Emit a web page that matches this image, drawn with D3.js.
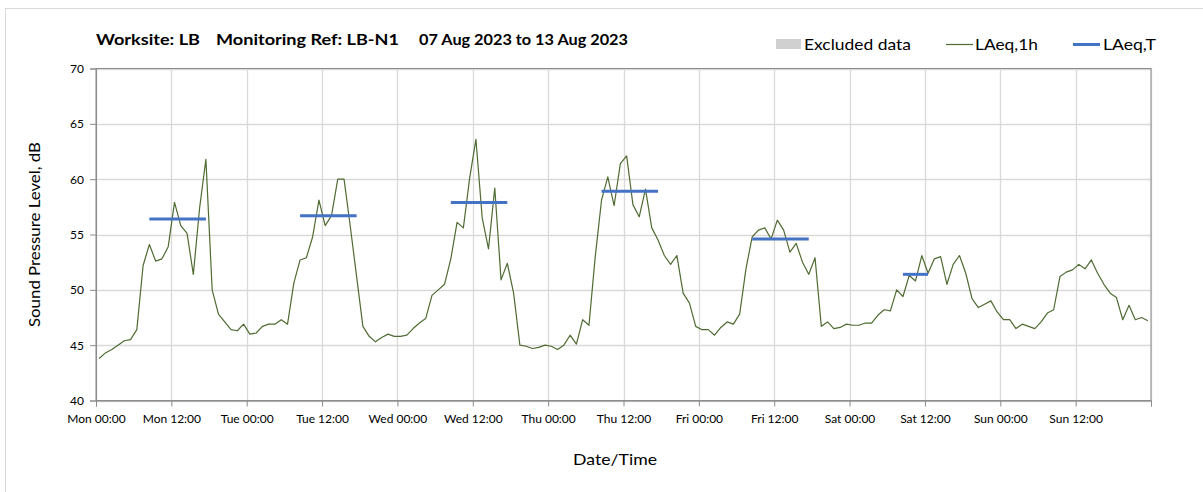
<!DOCTYPE html>
<html>
<head>
<meta charset="utf-8">
<script src="https://cdn.jsdelivr.net/npm/d3@7"></script>
<style>
  body { margin: 0; background: #fff; }
  text { font-family: Lato, "Open Sans", sans-serif; fill: #000; }
</style>
</head>
<body>
<div id="wrapper"></div>
<script>
const width = 1203,
    height = 492;

// hourly LAeq,1h (dB), Mon 07 Aug 2023 00:00 to Sun 13 Aug 2023 23:00
const monValues = [43.8, 44.3, 44.6, 45.0, 45.4, 45.5, 46.4, 52.2, 54.1, 52.6, 52.8, 53.9,
    57.9, 55.8, 55.1, 51.4, 57.4, 61.8, 50.0, 47.8, 47.1, 46.4, 46.3, 46.9];
const tueValues = [46.0, 46.1, 46.7, 46.9, 46.9, 47.3, 46.9, 50.6, 52.7, 52.9, 54.8, 58.1,
    55.8, 56.7, 60.0, 60.0, 55.7, 51.2, 46.7, 45.8, 45.3, 45.7, 46.0, 45.8];
const wedValues = [45.8, 45.9, 46.5, 47.0, 47.4, 49.5, 50.0, 50.5, 52.8, 56.1, 55.6, 60.1,
    63.6, 56.5, 53.7, 59.2, 50.9, 52.4, 49.7, 45.0, 44.9, 44.7, 44.8, 45.0];
const thuValues = [44.9, 44.6, 45.0, 45.9, 45.1, 47.3, 46.8, 53.0, 58.1, 60.2, 57.6, 61.4,
    62.1, 57.7, 56.6, 59.1, 55.6, 54.5, 53.1, 52.3, 53.1, 49.7, 48.8, 46.7];
const friValues = [46.4, 46.4, 45.9, 46.6, 47.1, 46.9, 47.8, 51.9, 54.8, 55.4, 55.6, 54.6,
    56.3, 55.4, 53.4, 54.2, 52.5, 51.4, 52.9, 46.7, 47.1, 46.5, 46.6, 46.9];
const satValues = [46.8, 46.8, 47.0, 47.0, 47.7, 48.2, 48.1, 50.0, 49.4, 51.3, 50.8, 53.1,
    51.5, 52.8, 53.0, 50.5, 52.3, 53.1, 51.5, 49.2, 48.4, 48.7, 49.0, 48.0];
const sunValues = [47.3, 47.3, 46.5, 46.9, 46.7, 46.5, 47.1, 47.9, 48.2, 51.2, 51.6, 51.8,
    52.3, 51.9, 52.7, 51.5, 50.5, 49.7, 49.3, 47.3, 48.6, 47.3, 47.5, 47.2];

// LAeq,T periods (first and last hour in the period) and levels
const ltStart = ["2023-08-07 08:00", "2023-08-08 08:00", "2023-08-09 08:00",
    "2023-08-10 08:00", "2023-08-11 08:00", "2023-08-12 08:00"];
const ltEnd = ["2023-08-07 17:00", "2023-08-08 17:00", "2023-08-09 17:00",
    "2023-08-10 17:00", "2023-08-11 17:00", "2023-08-12 12:00"];
const ltValues = [56.4, 56.7, 57.9, 58.9, 54.6, 51.4];

const yTicks = [40, 45, 50, 55, 60, 65, 70];

const parse = d3.timeParse("%Y-%m-%d %H:%M");
const startTime = parse("2023-08-07 00:00"),
    endTime = parse("2023-08-14 00:00");

const hourly = [].concat(monValues, tueValues, wedValues, thuValues, friValues, satValues, sunValues);
const hours = d3.timeHour.range(startTime, endTime);
const series = hours.map((t, i) => ({time: d3.timeMinute.offset(t, 30), value: hourly[i]}));

const periods = ltValues.map((v, i) => ({
    start: d3.timeMinute.offset(parse(ltStart[i]), 30),
    end: d3.timeMinute.offset(parse(ltEnd[i]), 30),
    value: v}));

const plot = {left: 96, right: 1151, top: 68.5, bottom: 400.5};

const svg = d3.select("#wrapper")
    .append("svg")
    .attr("width", width)
    .attr("height", height);

// outer frame
svg.append("rect")
    .attr("x", 5.5).attr("y", 8.5)
    .attr("width", width).attr("height", height)
    .attr("fill", "none")
    .attr("stroke", "#d9d9d9");

const x = d3.scaleTime()
    .domain([startTime, endTime])
    .range([plot.left, plot.right]);

const y = d3.scaleLinear()
    .domain([40, 70])
    .range([plot.bottom, plot.top]);

const xTicks = d3.timeHour.every(12).range(startTime, d3.timeHour.offset(endTime, 1));

// grid
svg.append("g")
    .selectAll("line")
    .data(yTicks)
    .enter().append("line")
    .attr("x1", plot.left).attr("x2", plot.right)
    .attr("y1", d => Math.round(y(d)) + 0.5).attr("y2", d => Math.round(y(d)) + 0.5)
    .attr("stroke", "#d9d9d9")
    .attr("stroke-width", 1.3);

svg.append("g")
    .selectAll("line")
    .data(xTicks)
    .enter().append("line")
    .attr("x1", d => Math.round(x(d)) + 0.5).attr("x2", d => Math.round(x(d)) + 0.5)
    .attr("y1", plot.top).attr("y2", plot.bottom)
    .attr("stroke", "#d9d9d9")
    .attr("stroke-width", 1.3);

// plot border
svg.append("rect")
    .attr("x", plot.left).attr("y", plot.top)
    .attr("width", plot.right - plot.left).attr("height", plot.bottom - plot.top)
    .attr("fill", "none")
    .attr("stroke", "#8c8c8c");

// axes
const xAxis = svg.append("g")
    .attr("transform", "translate(0," + plot.bottom + ")")
    .call(d3.axisBottom(x)
        .tickValues(xTicks)
        .tickSize(6)
        .tickPadding(8)
        .tickFormat(d => d < endTime ? d3.timeFormat("%a %H:%M")(d) : ""));

const yAxis = svg.append("g")
    .attr("transform", "translate(" + plot.left + ",0)")
    .call(d3.axisLeft(y)
        .tickValues(yTicks)
        .tickSize(6)
        .tickPadding(6));

[xAxis, yAxis].forEach(function (g) {
    g.select(".domain").attr("stroke", "#8c8c8c");
    g.selectAll(".tick line").attr("stroke", "#8c8c8c");
    g.selectAll(".tick text")
        .style("font-family", "Lato, sans-serif")
        .style("font-size", "12px")
        .attr("fill", "#222");
});

// LAeq,1h line
const line = d3.line()
    .x(d => x(d.time))
    .y(d => y(d.value));

svg.append("path")
    .datum(series)
    .attr("d", line)
    .attr("fill", "none")
    .attr("stroke", "#4f6b32")
    .attr("stroke-width", 1.2)
    .attr("stroke-linejoin", "round");

// LAeq,T periods
svg.append("g")
    .selectAll("line")
    .data(periods)
    .enter().append("line")
    .attr("x1", d => x(d.start)).attr("x2", d => x(d.end))
    .attr("y1", d => y(d.value)).attr("y2", d => y(d.value))
    .attr("stroke", "#4472c4")
    .attr("stroke-width", 3);

// title
const title = svg.append("g")
    .style("font-weight", "bold")
    .style("font-size", "15px");

title.append("text").attr("x", 96).attr("y", 45)
    .attr("textLength", 104).attr("lengthAdjust", "spacingAndGlyphs")
    .text("Worksite: LB");
title.append("text").attr("x", 216).attr("y", 45)
    .attr("textLength", 183).attr("lengthAdjust", "spacingAndGlyphs")
    .text("Monitoring Ref: LB-N1");
title.append("text").attr("x", 419).attr("y", 45)
    .attr("textLength", 209).attr("lengthAdjust", "spacingAndGlyphs")
    .text("07 Aug 2023 to 13 Aug 2023");

// legend
const legend = svg.append("g")
    .style("font-size", "16px");

legend.append("rect")
    .attr("x", 776).attr("y", 39)
    .attr("width", 25).attr("height", 10)
    .attr("fill", "#d0d0d0");
legend.append("text").attr("x", 804).attr("y", 50)
    .attr("fill", "#222")
    .attr("textLength", 107).attr("lengthAdjust", "spacingAndGlyphs")
    .text("Excluded data");

legend.append("line")
    .attr("x1", 946).attr("x2", 973)
    .attr("y1", 44.5).attr("y2", 44.5)
    .attr("stroke", "#4f6b32").attr("stroke-width", 1.2);
legend.append("text").attr("x", 975).attr("y", 50)
    .attr("fill", "#222")
    .attr("textLength", 63).attr("lengthAdjust", "spacingAndGlyphs")
    .text("LAeq,1h");

legend.append("line")
    .attr("x1", 1073).attr("x2", 1100)
    .attr("y1", 44.5).attr("y2", 44.5)
    .attr("stroke", "#4472c4").attr("stroke-width", 3);
legend.append("text").attr("x", 1103).attr("y", 50)
    .attr("fill", "#222")
    .attr("textLength", 53).attr("lengthAdjust", "spacingAndGlyphs")
    .text("LAeq,T");

// axis titles
svg.append("text")
    .attr("x", 615)
    .attr("y", 465)
    .attr("text-anchor", "middle")
    .style("font-size", "16px")
    .attr("fill", "#222")
    .attr("textLength", 84).attr("lengthAdjust", "spacingAndGlyphs")
    .text("Date/Time");

svg.append("text")
    .attr("transform", "translate(40," + (plot.top + plot.bottom) / 2 + ") rotate(-90)")
    .attr("text-anchor", "middle")
    .style("font-size", "16px")
    .attr("fill", "#222")
    .attr("textLength", 185).attr("lengthAdjust", "spacingAndGlyphs")
    .text("Sound Pressure Level, dB");
</script>
</body>
</html>
